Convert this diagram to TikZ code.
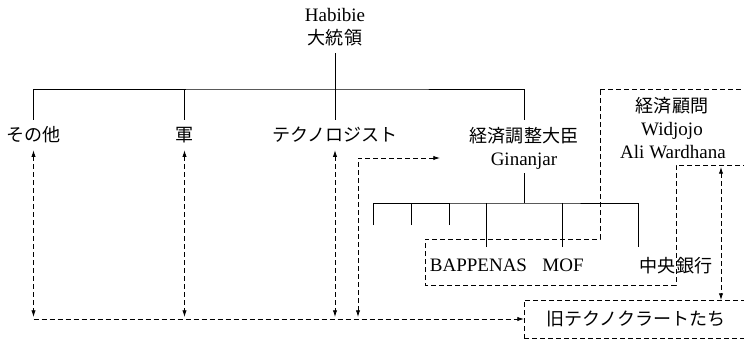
\documentclass[tikz,border=0pt]{standalone}
\usepackage{fontspec}
\setmainfont{Liberation Serif}
\newfontfamily\jp{Noto Sans CJK JP}[Scale=0.95]
\usetikzlibrary{arrows.meta}
\begin{document}
\begin{tikzpicture}[x=0.75pt,y=-0.75pt,
  lat/.style={inner sep=0pt,outer sep=3pt,anchor=base,font=\fontsize{14.25}{17}\selectfont,text height=10pt,text depth=3pt},
  jpl/.style={inner sep=0pt,outer sep=5pt,anchor=base,font=\fontsize{14.25}{17}\selectfont\jp,text height=11.5pt,text depth=1.5pt},
  tree/.style={line width=0.6pt},
  dar/.style={line width=0.6pt,dash pattern=on 3.75pt off 2.25pt},
  ar/.style={-{Latex[length=5pt,width=3.2pt]}},
  biar/.style={{Latex[length=5pt,width=3.2pt]}-{Latex[length=5pt,width=3.2pt]}}
]
\useasboundingbox (0,0) rectangle (744,340);
% labels
\node[lat] (pres1) at (335,21) {Habibie};
\node[jpl] (pres2) at (335,44.5) {大統領};
\node[jpl] (sonota) at (33.5,141.5) {その他};
\node[jpl] (gun) at (184.5,141.5) {軍};
\node[jpl] (tech) at (335,141.5) {テクノロジスト};
\node[jpl] (keizai) at (524,142) {経済調整大臣};
\node[lat] (gin) at (524,165) {Ginanjar};
\node[jpl] (adv1) at (672,112) {経済顧問};
\node[lat] (adv2) at (672,135) {Widjojo};
\node[lat] (adv3) at (673,158) {Ali Wardhana};
\node[lat] (bap) at (478.5,271.5) {BAPPENAS};
\node[lat] (mof) at (563,271.5) {MOF};
\node[jpl] (cb) at (676,272) {中央銀行};
\node[draw,dar,inner sep=0pt,outer sep=0pt,minimum width=168pt,minimum height=28.5pt,
  font=\fontsize{14.25}{17}\selectfont\jp,text height=11.5pt,text depth=1.5pt] (old) at (636,319) {旧テクノクラートたち};
% main tree
\coordinate (bus) at (335,89);
\draw[tree] (pres2.south) -- (tech.north);
\draw[tree] (sonota.north) |- (bus) -| (keizai.north);
\draw[tree] (gun.north) -- (gun.north |- bus);
% sub tree
\coordinate (sbus) at (524,203);
\coordinate (d1) at (373,225);
\coordinate (d2) at (411,225);
\coordinate (d3) at (449,225);
\coordinate (d4) at (486,247);
\coordinate (d5) at (562,247);
\coordinate (d6) at (638,247);
\draw[tree] (gin.south) -- (sbus);
\draw[tree] (d1) |- (sbus) -| (d6);
\foreach \d in {d2,d3,d4,d5} \draw[tree] (\d) -- (\d |- sbus);
% dashed group outline
\draw[dar] (600,89) -- (760,89) -- (760,165) -- (676,165) -- (676,285) -- (425,285) -- (425,239) -- (600,239) -- cycle;
% dashed arrows
\coordinate (tl) at (0,317);
\draw[dar,biar] (sonota.south) -- (sonota.south |- tl);
\draw[dar,biar] (gun.south) -- (gun.south |- tl);
\draw[dar,biar] (tech.south) -- (tech.south |- tl);
\coordinate (gtip) at (440,158);
\coordinate (g4) at (358,317);
\draw[dar,biar] (gtip) -| (g4);
\draw[dar,ar] (sonota.south |- old.west) -- (old.west);
\coordinate (advtip) at (721,167);
\draw[dar,biar] (advtip) -- (advtip |- old.north);
\end{tikzpicture}
\end{document}
